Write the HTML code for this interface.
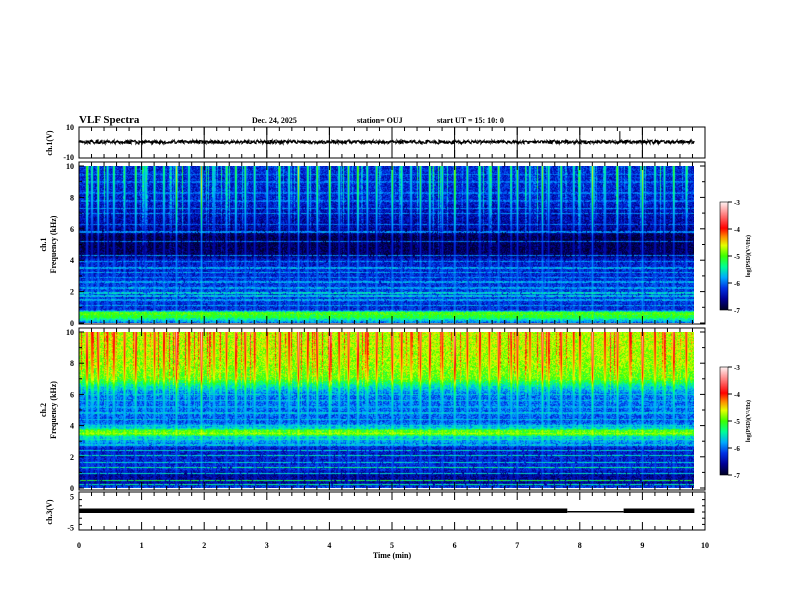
<!DOCTYPE html>
<html><head><meta charset="utf-8"><style>
body{margin:0;background:#fff;width:792px;height:612px;overflow:hidden;position:relative;font-family:"Liberation Serif",serif;}
canvas{position:absolute;}
svg{position:absolute;left:0;top:0;}
text{font-family:"Liberation Serif",serif;font-weight:bold;fill:#000;}
</style></head><body>
<canvas id="spec1" style="left:79px;top:166px" width="615" height="157"></canvas>
<canvas id="spec2" style="left:79px;top:332px" width="615" height="156"></canvas>
<canvas id="cb1" style="left:720px;top:202px" width="8" height="108"></canvas>
<canvas id="cb2" style="left:720px;top:367px" width="8" height="108"></canvas>
<svg id="ov" width="792" height="612">
<text x="79" y="123" font-size="11">VLF Spectra</text>
<text x="252" y="123" font-size="8">Dec. 24, 2025</text>
<text x="357" y="123" font-size="8">station= OUJ</text>
<text x="437" y="123" font-size="8">start  UT =   15: 10: 0</text>
<text x="392" y="558" font-size="8" text-anchor="middle">Time  (min)</text>
</svg>
<script>
// ---- data ----
const timeTicks=[0,1,2,3,4,5,6,7,8,9,10];
const tEnd=9.83;
const freqTicks=[0,2,4,6,8,10];
const cbTicks=[-3,-4,-5,-6,-7];
// background spectrum levels [kHz, log PSD]
const spec1Freq=[0,0.3,0.45,0.7,0.8,2,3,4,4.3,5.5,6,7,8,10];
const spec1Level=[-6.0,-5.3,-5.2,-5.5,-6.3,-6.2,-6.3,-6.4,-6.8,-6.9,-6.6,-6.5,-6.35,-6.3];
const spec2Freq=[0,0.3,0.8,1.2,2.5,2.9,3.3,3.4,3.7,3.8,4.2,6,6.5,7,8,10];
const spec2Level=[-6.2,-6.6,-6.6,-6.3,-6.4,-5.9,-5.6,-5.0,-5.0,-5.6,-6.1,-6.0,-5.6,-5.0,-4.8,-4.7];
const spec1Lines=[0.35,0.5,0.62,1.1,1.45,1.7,1.9,2.2,2.6,2.9,3.2,3.5,3.9,4.3,5.2,5.8,6.3,7.0,7.3,7.8,8.3,9.0,9.5];
const spec1LineLevel=[-5.2,-5.0,-5.0,-5.8,-5.8,-5.7,-5.6,-5.8,-5.8,-5.9,-5.8,-5.8,-5.9,-5.9,-6.0,-5.9,-6.0,-5.9,-5.9,-6.0,-6.0,-6.0,-6.0];
const spec2Lines=[0.2,0.45,0.9,1.3,1.6,2.05,2.4,2.75,3.1,3.5,4.0,4.4,4.8,5.2,5.6,6.0];
const spec2LineLevel=[-5.4,-5.2,-5.6,-5.4,-5.6,-5.5,-5.6,-5.7,-5.5,-4.8,-5.6,-5.7,-5.7,-5.8,-5.7,-5.6];
const sfericTimes=[0.12,0.2,0.3,0.45,0.55,0.72,0.9,1.05,1.2,1.35,1.55,1.75,1.95,2.15,2.35,2.5,2.65,2.8,3.0,3.2,3.35,3.5,3.65,3.8,4.0,4.15,4.3,4.45,4.6,4.75,5.0,5.15,5.3,5.45,5.6,5.8,6.0,6.2,6.4,6.55,6.7,6.9,7.0,7.2,7.4,7.5,7.7,7.9,8.0,8.2,8.4,8.6,8.8,9.0,9.2,9.35,9.5,9.7];
const sfericStrength=[0.9,0.6,0.8,0.5,0.7,0.6,0.8,0.5,0.6,0.7,0.9,0.6,1.0,0.5,0.6,0.8,0.7,0.6,0.5,0.8,0.6,0.9,0.7,0.8,1.0,0.6,0.7,0.9,0.6,0.7,0.8,0.6,0.5,0.7,0.8,0.6,1.0,0.6,0.7,0.5,0.8,0.6,0.7,0.5,0.8,0.6,0.7,0.5,0.6,0.9,0.6,0.7,0.6,0.9,0.6,0.5,0.8,0.6];
const ch1Level=0, ch1SpikeTime=8.64, ch1SpikeValue=7;
const ch3Times=[0,7.8,8.7,9.83];
const ch3Values=[0.4,0.1,0.4];

// ---- helpers ----
const X0=79,X1=705;
const xs=t=>X0+(X1-X0)*t/10;
function hash(a,b){let h=(a*374761393+b*668265263)|0;h=(h^(h>>>13))*1274126177|0;h^=h>>>16;return ((h>>>0)%10000)/10000;}
const cstops=[[0,[0,0,40]],[0.1,[0,0,150]],[0.2,[0,50,230]],[0.3,[0,170,255]],[0.4,[0,255,150]],[0.5,[60,255,0]],[0.6,[230,255,0]],[0.68,[255,140,0]],[0.76,[255,0,0]],[0.88,[255,120,120]],[1,[255,240,240]]];
function cmap(v){let t=(v+7)/4;t=Math.max(0,Math.min(1,t));for(let i=1;i<cstops.length;i++){if(t<=cstops[i][0]){const a=cstops[i-1],b=cstops[i],f=(t-a[0])/(b[0]-a[0]);return a[1].map((c,k)=>Math.round(c+(b[1][k]-c)*f));}}return cstops[cstops.length-1][1];}
function interp(xa,ya,x){for(let i=1;i<xa.length;i++)if(x<=xa[i]){const f=(x-xa[i-1])/(xa[i]-xa[i-1]);return ya[i-1]+(ya[i]-ya[i-1])*f;}return ya[ya.length-1];}
function drawSpec(id,freqs,levels,lines,lineLv,sf,minF,seed){
 const c=document.getElementById(id),ctx=c.getContext('2d'),W=c.width,H=c.height;
 const img=ctx.createImageData(W,H);
 const colNoise=[];for(let x=0;x<W;x++)colNoise.push(hash(x,seed)<0.18?hash(x,seed+7)*0.9:0);
 for(let y=0;y<H;y++){const f=10*(1-y/(H-1));const base=interp(freqs,levels,f);
  let ln=-99;lines.forEach((lf,i)=>{if(Math.abs(f-lf)<0.045)ln=Math.max(ln,lineLv[i]);});
  for(let x=0;x<W;x++){const t=x/W*tEnd;let v=base+(hash(x*7+seed,y*13)-0.5)*0.6;
   const fw=Math.max(0,(f-minF)/(10-minF));v+=colNoise[x]*fw*1.2;
   for(let k=0;k<sfericTimes.length;k++){const dx=Math.abs(t-sfericTimes[k])*W/tEnd;if(dx<1.6){const s=sf*sfericStrength[k]*(1-dx/1.6);v=Math.max(v,base+s*(0.4+1.6*fw));}}
   if(ln>-99&&hash(x,y+seed)>0.1)v=Math.max(v,ln+(hash(x+1,y)-0.5)*0.4);
   const col=cmap(v),p=(y*W+x)*4;img.data[p]=col[0];img.data[p+1]=col[1];img.data[p+2]=col[2];img.data[p+3]=255;}}
 ctx.putImageData(img,0,0);
}
drawSpec('spec1',spec1Freq,spec1Level,spec1Lines,spec1LineLevel,1.0,3,11);
drawSpec('spec2',spec2Freq,spec2Level,spec2Lines,spec2LineLevel,0.9,4,29);
['cb1','cb2'].forEach(id=>{const c=document.getElementById(id),ctx=c.getContext('2d');for(let y=0;y<c.height;y++){const v=-3-4*y/(c.height-1);const col=cmap(v);ctx.fillStyle=`rgb(${col})`;ctx.fillRect(0,y,c.width,1);}});

// ---- SVG axes ----
const svg=document.getElementById('ov'),NS='http://www.w3.org/2000/svg';
function el(tag,attrs,parent){const e=document.createElementNS(NS,tag);for(const k in attrs)e.setAttribute(k,attrs[k]);(parent||svg).appendChild(e);return e;}
function txt(x,y,s,size,anchor,name,rot){const e=el('text',{x:x,y:y,'font-size':size,'text-anchor':anchor||'middle'});if(rot)e.setAttribute('transform',`rotate(-90 ${x} ${y})`);e.textContent=s;


return e;}
const panels=[{top:127,bot:158,name:'ch1-panel'},{top:162,bot:324,name:'spec1-panel'},{top:328,bot:490,name:'spec2-panel'},{top:492,bot:530,name:'ch3-panel'}];
panels.forEach(p=>{const r=el('rect',{x:X0,y:p.top,width:X1-X0,height:p.bot-p.top,fill:'none',stroke:'#000','stroke-width':1});


 for(let i=0;i<=50;i++){const t=i*0.2,x=xs(t),L=(i%5==0)?p.bot-p.top:4;
  el('line',{x1:x,x2:x,y1:p.top,y2:p.top+((i%5==0)?Math.min(L,8):L),stroke:'#000','stroke-width':1});
  el('line',{x1:x,x2:x,y1:p.bot,y2:p.bot-((i%5==0)?Math.min(L,8):L),stroke:'#000','stroke-width':1});}
});
// ch1 major lines full height
timeTicks.forEach(t=>{el('line',{x1:xs(t),x2:xs(t),y1:127,y2:158,stroke:'#000','stroke-width':1});});
// ch1 trace
let d='';for(let x=0;x<=(xs(tEnd)-X0);x++){const t=x/(X1-X0)*10;let v=ch1Level+(hash(x,3)-0.5)*2.2;const y1=142-v*1.55;d+=(x?'L':'M')+(X0+x)+' '+y1.toFixed(1);d+=' L'+(X0+x)+' '+(142-(ch1Level+(hash(x,5)-0.5)*2.2)*1.55).toFixed(1);}
const tr=el('path',{d:d,stroke:'#000','stroke-width':1.2,fill:'none'});


const sp=el('line',{x1:xs(ch1SpikeTime),x2:xs(ch1SpikeTime),y1:142,y2:142-ch1SpikeValue*1.55,stroke:'#000','stroke-width':1});


txt(74,130,'10',8,'end','ch1-ytick-10');txt(74,160,'-10',8,'end','ch1-ytick-neg10');
txt(52,143,'ch.1(V)',8,'middle','ch1-y-title',true);
// ch3 trace
const ys3=v=>512-v*3.1;
for(let i=0;i<ch3Values.length;i++){const ln=el('line',{x1:xs(ch3Times[i]),x2:xs(ch3Times[i+1]),y1:ys3(ch3Values[i]),y2:ys3(ch3Values[i]),stroke:'#000','stroke-width':i==1?1.5:4.5});

}
[[5,'5'],[-5,'-5']].forEach(([v,s])=>txt(74,ys3(v)+3,s,8,'end','ch3-ytick'));
for(let v=-4;v<=4;v+=2){el('line',{x1:X0,x2:X0+3,y1:ys3(v),y2:ys3(v),stroke:'#000'});el('line',{x1:X1,x2:X1-3,y1:ys3(v),y2:ys3(v),stroke:'#000'});}
txt(52,512,'ch.3(V)',8,'middle','ch3-y-title',true);
// freq axes
[[166,323,'ch.1',1],[332,488,'ch.2',2]].forEach(([t,b,lab,n])=>{
 freqTicks.forEach(f=>{const y=b-(b-t)*f/10;txt(74,y+3,String(f),8,'end','ch'+n+'-freq-tick');el('line',{x1:X0,x2:X0+5,y1:y,y2:y,stroke:'#000'});el('line',{x1:X1,x2:X1-5,y1:y,y2:y,stroke:'#000'});});
 for(let f=1;f<10;f+=2){const y=b-(b-t)*f/10;el('line',{x1:X0,x2:X0+3,y1:y,y2:y,stroke:'#000'});el('line',{x1:X1,x2:X1-3,y1:y,y2:y,stroke:'#000'});}
 txt(46,(t+b)/2,lab,8,'middle','ch'+n+'-label',true);
 txt(56,(t+b)/2,'Frequency  (kHz)',8,'middle','ch'+n+'-freq-title',true);
});
// colorbars
[[202,'cb1'],[367,'cb2']].forEach(([t,n])=>{el('rect',{x:720,y:t,width:8,height:108,fill:'none',stroke:'#000','stroke-width':0.6});
 cbTicks.forEach((v,i)=>{const y=t+108*i/4;el('line',{x1:728,x2:732,y1:y,y2:y,stroke:'#000'});txt(734,y+3,String(v),7,'start',n+'-tick');});
 txt(750,t+54,'log(PSD)(V\u00B2/Hz)',6,'middle',n+'-title',true);});
// time axis labels
timeTicks.forEach(t=>txt(xs(t),548,String(t),8,'middle','x-tick-'+t));
</script>
</body></html>
